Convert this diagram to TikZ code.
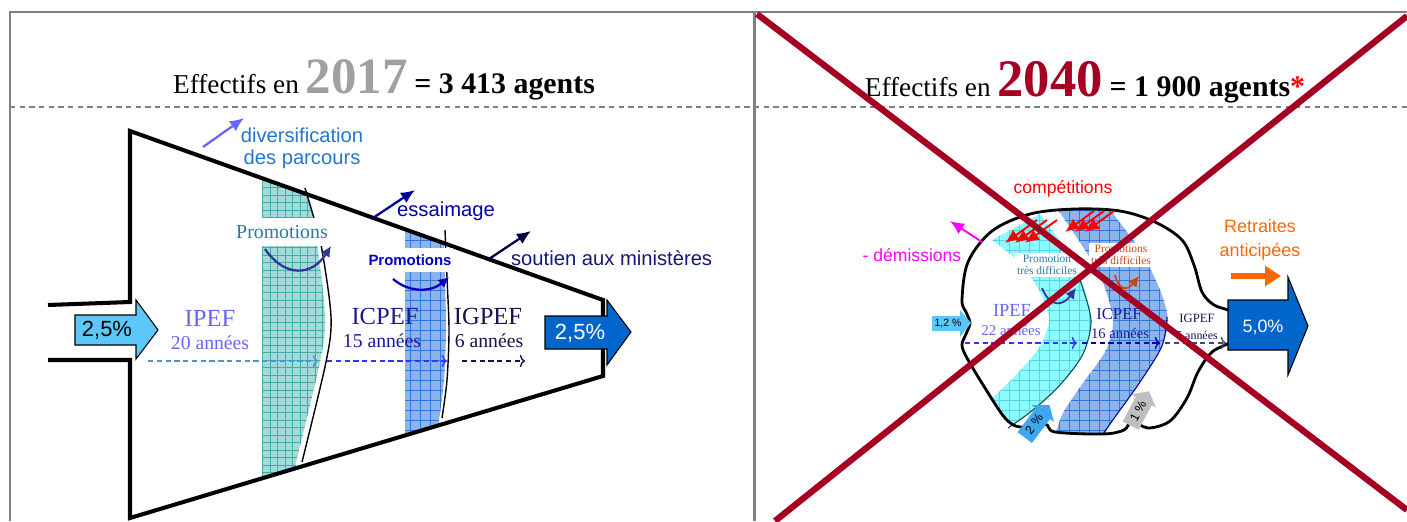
\documentclass[tikz,border=0pt]{standalone}
\usepackage{fontspec}
\setmainfont{Liberation Serif}
\setsansfont{Liberation Sans}
\usetikzlibrary{arrows.meta}

\definecolor{framegray}{HTML}{808080}
\definecolor{yeargray}{HTML}{A0A0A0}
\definecolor{crossred}{HTML}{A50021}
\definecolor{corpsA}{HTML}{6666FF}
\definecolor{corpsB}{HTML}{1A1A99}
\definecolor{corpsC}{HTML}{141450}
\definecolor{promoteal}{HTML}{2A7B9B}
\definecolor{promoblue}{HTML}{0000C0}
\definecolor{promored}{HTML}{CC4411}
\definecolor{curvepurple}{HTML}{333399}
\definecolor{tealfill}{HTML}{A2DAD7}
\definecolor{tealgrid}{HTML}{45AAAA}
\definecolor{bluefill}{HTML}{8CB4EA}
\definecolor{bluegrid}{HTML}{3377DD}
\definecolor{cyanfill}{HTML}{8EFBFF}
\definecolor{cyangrid}{HTML}{55D5EA}
\definecolor{skyblue}{HTML}{5BC8F8}
\definecolor{arrowblue}{HTML}{3DA8F2}
\definecolor{deepblue}{HTML}{0066CC}
\definecolor{divblue}{HTML}{2277D4}
\definecolor{orangeret}{HTML}{FF6600}
\definecolor{pinkdem}{HTML}{FF00FF}

\newcommand{\sz}[2]{\fontsize{#1}{#2}\selectfont}

\tikzstyle{panel} = [draw=framegray, line width=1.7pt]
\tikzstyle{sep} = [draw=framegray, dash pattern=on 3pt off 2.5pt, line width=0.8pt]
\tikzstyle{wall} = [draw=black, line width=2.3pt, line join=miter]
\tikzstyle{contour} = [draw=black, line width=1.6pt, line join=round]
\tikzstyle{thinedge} = [draw=black, line width=0.8pt]
\tikzstyle{bigarrow} = [draw=black, line width=0.6pt, line join=miter]
\tikzstyle{flow} = [dash pattern=on 3pt off 2pt, line width=0.8pt, -{To[length=3pt,width=7pt]}]
\tikzstyle{side} = [line width=1.3pt, -{Latex[length=8pt,width=7pt]}]
\tikzstyle{promo} = [line width=1.3pt, -{Latex[length=6pt,width=6pt]}]
\tikzstyle{note} = [font=\sffamily, inner sep=1pt]
\tikzstyle{corps} = [inner sep=0pt]
\tikzstyle{gap} = [fill=white, inner xsep=1pt, inner ysep=0pt]
\tikzstyle{cross} = [draw=crossred, line width=3.6pt]

\begin{document}
\begin{tikzpicture}[x=0.02cm, y=-0.02cm]
\useasboundingbox (0,0) rectangle (1407,521);

% cadre des deux panneaux
\draw[panel] (10,521) -- (10,12) -- (1407,12);
\draw[panel] (754,12) -- (754,521);
\draw[sep] (10,107) -- (1407,107);

% ---------------- 2017 ----------------
\node[anchor=base, inner sep=0pt] (titre17) at (384,93) {\sz{15.5}{18}Effectifs en {\sz{29}{29}\bfseries\color{yeargray}2017} {\sz{17}{18}\bfseries = 3 413 agents}};

% bandes de promotion dans l'entonnoir
\begin{scope}
  \clip (130,131) -- (603,300) -- (603,376) -- (130,518) -- cycle;
  \begin{scope}
    \clip (262,150) -- plot[smooth] coordinates {(305,180) (312,215) (318,250) (325,317) (320,362) (296,462)} -- (296,500) -- (262,500) -- cycle;
    \fill[tealfill] (250,140) rectangle (340,500);
    \draw[tealgrid, line width=0.4pt, step=0.15cm] (250,140) grid (340,500);
  \end{scope}
  \begin{scope}
    \clip (405,200) -- plot[smooth] coordinates {(443,225) (445,280) (446,330) (444,380) (439,420)} -- (439,460) -- (405,460) -- cycle;
    \fill[bluefill] (400,200) rectangle (460,460);
    \draw[bluegrid, line width=0.4pt, step=0.2cm] (400,200) grid (460,460);
  \end{scope}
\end{scope}
\draw[thinedge] plot[smooth] coordinates {(305,188) (313,215) (322,250) (331,317) (326,362) (302,462)};
\draw[thinedge] plot[smooth] coordinates {(445,230) (447,278) (449,330) (447,380) (442,418)};

% entonnoir
\draw[wall] (48,305) -- (130,302) -- (130,131) -- (603,300) -- (603,376) -- (130,518) -- (130,360) -- (48,360);

% flux entrant et sortant
\draw[bigarrow, fill=skyblue] (75,315) -- (136,315) -- (136,300) -- (158,330) -- (136,359) -- (136,345) -- (75,345) -- cycle;
\node[note, font=\sffamily\sz{12.5}{14}] (entree17) at (107,330) {2,5\%};
\draw[bigarrow, fill=deepblue] (545,316) -- (607,316) -- (607,300) -- (631,332) -- (607,365) -- (607,349) -- (545,349) -- cycle;
\node[note, text=white, font=\sffamily\sz{12.5}{14}] (sortie17) at (580,333) {2,5\%};

% promotions
\node[gap, text=promoteal, minimum height=16pt, font=\sz{11.3}{13}] (promo17a) at (282,232) {Promotions};
\draw[promo, curvepurple] (265,249) .. controls (285,278) and (312,276) .. (331,246);
\node[gap, text=promoblue, minimum height=14pt, font=\sffamily\bfseries\sz{8.5}{10}] (promo17b) at (410,260) {Promotions};
\draw[promo, promoblue] (393,279) .. controls (408,292) and (430,293) .. (449,277);

% corps et durees
\node[corps, text=corpsA, font=\sz{14}{16}] (ipef17) at (210,318) {IPEF};
\node[corps, text=corpsA, font=\sz{11.2}{13}] (ipefdur17) at (210,343) {20 années};
\node[corps, text=corpsB, font=\sz{14}{16}] (icpef17) at (385,316) {ICPEF};
\node[corps, text=corpsB, font=\sz{11.2}{13}] (icpefdur17) at (382,341) {15 années};
\node[corps, text=corpsC, font=\sz{14}{16}] (igpef17) at (488,316) {IGPEF};
\node[corps, text=corpsC, font=\sz{11.2}{13}] (igpefdur17) at (489,341) {6 années};

\coordinate (f1a) at (148,361);
\coordinate (f1b) at (318,361);
\coordinate (f2a) at (327,361);
\coordinate (f2b) at (447,361);
\coordinate (f3a) at (462,361);
\coordinate (f3b) at (525,361);
\draw[flow, color=divblue!80] (f1a) -- (f1b);
\draw[flow, color=blue!80] (f2a) -- (f2b);
\draw[flow, color=corpsC] (f3a) -- (f3b);

% sorties laterales
\node[note, text=divblue, align=center, font=\sffamily\sz{11.5}{12.5}] (divers) at (302,148) {diversification\\des parcours};
\node[note, text=blue!65!black, anchor=west, font=\sffamily\sz{11.5}{13}] (essaim) at (395,211) {essaimage};
\node[note, text=corpsB!80!black, anchor=west, font=\sffamily\sz{11.5}{13}] (soutien) at (509,258) {soutien aux ministères};
\coordinate (div-from) at (203,147);
\coordinate (div-to) at (244,118);
\coordinate (ess-from) at (373,218);
\coordinate (ess-to) at (415,190);
\coordinate (sou-from) at (489,259);
\coordinate (sou-to) at (531,231);
\draw[side, color=corpsA] (div-from) -- (div-to);
\draw[side, color=blue!60!black] (ess-from) -- (ess-to);
\draw[side, color=blue!25!black] (sou-from) -- (sou-to);

% ---------------- 2040 ----------------
\node[anchor=base, inner sep=0pt] (titre40) at (1085,96) {\sz{15.5}{18}Effectifs en {\sz{30}{30}\bfseries\color{crossred}2040} {\sz{17}{18}\bfseries = 1 900 agents{\color{red}*}}};

\path[save path=\bulle] plot[smooth cycle, tension=0.55] coordinates {
  (962,300) (968,262) (992,231) (1030,214) (1075,209) (1120,211) (1155,222)
  (1182,240) (1194,265) (1202,292) (1214,305) (1232,312) (1240,326) (1232,341)
  (1212,352) (1198,372) (1187,398) (1170,421) (1148,428) (1132,421) (1124,430)
  (1103,434) (1055,432) (1045,424) (1020,427) (1005,418) (985,388) (967,358)
  (962,345) (966,334) (970,323) (966,312)};

\begin{scope}
  \clip[use path=\bulle];
  % bande IPEF -> ICPEF
  \begin{scope}
    \clip plot[smooth] coordinates {(1040,214) (1066,250) (1083,285) (1091,320) (1083,354) (1060,385) (1033,410) (1008,428)}
      -- plot[smooth] coordinates {(984,406) (1012,379) (1039,348) (1049,320) (1040,292) (1020,263) (992,240)} -- cycle;
    \fill[cyanfill] (970,200) rectangle (1100,440);
    \draw[cyangrid, line width=0.4pt, step=0.2cm] (970,200) grid (1100,440);
  \end{scope}
  % bande ICPEF -> IGPEF
  \begin{scope}
    \clip plot[smooth] coordinates {(1110,210) (1140,250) (1160,290) (1168,320) (1162,346) (1140,382) (1115,417) (1103,436)}
      -- plot[smooth] coordinates {(1055,436) (1063,413) (1083,383) (1106,350) (1113,320) (1103,283) (1085,250) (1058,210)} -- cycle;
    \fill[bluefill] (1040,200) rectangle (1180,440);
    \draw[bluegrid, line width=0.4pt, step=0.2cm] (1040,200) grid (1180,440);
  \end{scope}
\end{scope}
\draw[line width=0.6pt, color=teal!60!black] plot[smooth] coordinates {(1080,280) (1091,320) (1083,354) (1060,385) (1033,410) (1008,428)};
\draw[line width=0.6pt, color=blue!60!black] plot[smooth] coordinates {(1167,317) (1162,346) (1140,382) (1115,417) (1103,434)};

\draw[contour, use path=\bulle];

% competitions
\node[note, text=red, font=\sffamily\sz{10}{12}] (compet) at (1063,189) {compétitions};
\foreach \dx in {0,10,20} {
  \draw[red, line width=1.1pt, -{Latex[length=8pt,width=7pt]}] (1037+\dx,220) -- (1005+\dx,243);
  \draw[red, line width=1.1pt, -{Latex[length=8pt,width=7pt]}] (1094+\dx,211) -- (1065+\dx,232);
}

\node[gap, text=promoteal, align=center, inner ysep=1pt, font=\sz{6.5}{7}] (promo40a) at (1047,265) {Promotion\\très difficiles};
\node[gap, text=promored, align=center, inner ysep=1pt, font=\sz{6.5}{7}] (promo40b) at (1121,255) {Promotions\\très difficiles};
\draw[promo, curvepurple, line width=1pt] (1042,288) .. controls (1050,308) and (1063,306) .. (1076,288);
\draw[promo, promored, line width=1pt] (1115,275) .. controls (1119,292) and (1128,290) .. (1139,276);

% corps et durees
\node[corps, text=corpsA, font=\sz{10.5}{12}] (ipef40) at (1012,310) {IPEF};
\node[corps, text=corpsA, font=\sz{8.5}{10}] (ipefdur40) at (1011,330) {22 années};
\node[corps, text=corpsB, font=\sz{9.5}{11}] (icpef40) at (1119,314) {ICPEF};
\node[corps, text=corpsB, font=\sz{8.3}{10}] (icpefdur40) at (1120,333) {16 années};
\node[corps, text=corpsC, font=\sz{7.2}{8}] (igpef40) at (1197,318) {IGPEF};
\node[corps, text=corpsC, font=\sz{6.8}{8}] (igpefdur40) at (1197,335) {5 années};

\coordinate (g1a) at (965,343);
\coordinate (g1b) at (1077,343);
\coordinate (g2a) at (1082,343);
\coordinate (g2b) at (1160,343);
\coordinate (g3a) at (1165,343);
\coordinate (g3b) at (1226,343);
\draw[flow, color=blue!80] (g1a) -- (g1b);
\draw[flow, color=blue!70!black] (g2a) -- (g2b);
\draw[flow, color=corpsC!80] (g3a) -- (g3b);

% entrees et sorties
\fill[skyblue] (932,316) -- (960,316) -- (960,310) -- (971,323) -- (960,337) -- (960,331) -- (932,331) -- cycle;
\node[note, font=\sffamily\sz{6}{7}] (entree40) at (948,323) {1,2 \%};
\begin{scope}[shift={(1038,420)}, rotate=53]
  \fill[arrowblue] (-22,9) -- (8,9) -- (8,14) -- (19,0) -- (8,-14) -- (8,-9) -- (-22,-9) -- cycle;
\end{scope}
\node[note, inner sep=0pt, rotate=53, font=\sffamily\sz{7}{8}] (interne40) at (1034,424) {2 \%};
\begin{scope}[shift={(1140,408)}, rotate=62]
  \fill[black!25] (-20,9) -- (8,9) -- (8,14) -- (19,0) -- (8,-14) -- (8,-9) -- (-20,-9) -- cycle;
\end{scope}
\node[note, inner sep=0pt, rotate=62, font=\sffamily\sz{7}{8}] (externe40) at (1138,411) {1 \%};

\draw[bigarrow, fill=deepblue] (1228,300) -- (1288,300) -- (1288,277) -- (1308,326) -- (1288,375) -- (1288,350) -- (1228,350) -- cycle;
\node[note, text=white, font=\sffamily\sz{10.2}{12}] (sortie40) at (1263,327) {5,0\%};

\node[note, text=orangeret, align=center, font=\sffamily\sz{10.2}{13.5}] (retraites) at (1260,240) {Retraites\\anticipées};
\coordinate (ret-from) at (1231,276);
\coordinate (ret-to) at (1281,276);
\draw[orangeret, line width=3.2pt, -{Triangle[length=9pt,width=11pt]}] (ret-from) -- (ret-to);

\node[note, text=pinkdem, font=\sffamily\sz{10}{12}] (demiss) at (912,255) {- démissions};
\coordinate (dem-from) at (982,242);
\coordinate (dem-to) at (950,221);
\draw[side, pinkdem, line width=1.1pt] (dem-from) -- (dem-to);

% croix
\draw[cross] (757,14) -- (1407,510);
\draw[cross] (1407,16) -- (775,521);
\end{tikzpicture}
\end{document}
